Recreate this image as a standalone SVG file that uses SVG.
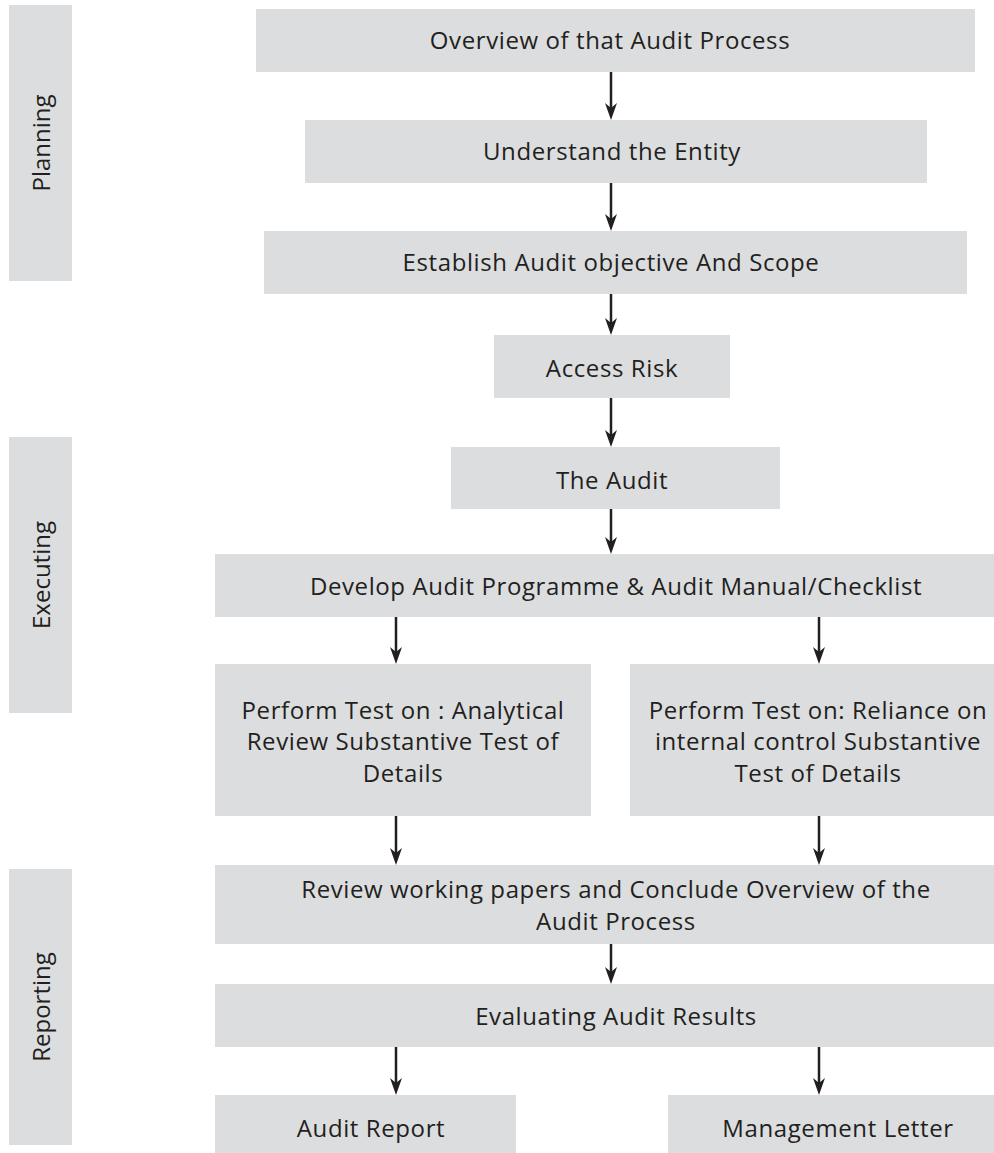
<svg xmlns="http://www.w3.org/2000/svg" width="994" height="1153" viewBox="0 0 994 1153">
<defs>
<style>
.box{fill:#dcdddf;}
.t{font-family:"Open Sans","Noto Sans","Liberation Sans",sans-serif;font-size:24px;fill:#231f20;text-anchor:middle;letter-spacing:0.6px;}
.side{font-family:"Open Sans","Noto Sans","Liberation Sans",sans-serif;font-size:24px;fill:#231f20;text-anchor:middle;}
.c{stroke:#231f20;stroke-width:2.5;fill:none;marker-end:url(#ah);}
</style>
<marker id="ah" viewBox="0 0 17 12" refX="7" refY="6" markerWidth="17" markerHeight="12" markerUnits="userSpaceOnUse" orient="auto">
<path d="M0,0 L17,6 L0,12 L5,6 Z" fill="#231f20"/>
</marker>
</defs>
<rect width="994" height="1153" fill="#ffffff"/>

<g id="phase-planning">
<rect class="box" x="9" y="5" width="63" height="276"/>
<text class="side" transform="translate(50,143) rotate(-90)">Planning</text>
</g>
<g id="phase-executing">
<rect class="box" x="9" y="437" width="63" height="276"/>
<text class="side" transform="translate(50,575) rotate(-90)">Executing</text>
</g>
<g id="phase-reporting">
<rect class="box" x="9" y="869" width="63" height="276"/>
<text class="side" transform="translate(50,1007) rotate(-90)">Reporting</text>
</g>

<g id="n-overview">
<rect class="box" x="256" y="9" width="719" height="63"/>
<text class="t" x="610" y="49">Overview of that Audit Process</text>
</g>
<g id="n-understand">
<rect class="box" x="305" y="120" width="622" height="63"/>
<text class="t" x="612" y="160">Understand the Entity</text>
</g>
<g id="n-establish">
<rect class="box" x="264" y="231" width="703" height="63"/>
<text class="t" x="611" y="271">Establish Audit objective And Scope</text>
</g>
<g id="n-risk">
<rect class="box" x="494" y="335" width="236" height="63"/>
<text class="t" x="612" y="377">Access Risk</text>
</g>
<g id="n-audit">
<rect class="box" x="451" y="447" width="329" height="62"/>
<text class="t" x="612" y="489">The Audit</text>
</g>
<g id="n-develop">
<rect class="box" x="215" y="554" width="779" height="63"/>
<text class="t" x="616" y="595">Develop Audit Programme &amp; Audit Manual/Checklist</text>
</g>
<g id="n-perform-left">
<rect class="box" x="215" y="664" width="376" height="152"/>
<text class="t" x="403" y="719">Perform Test on : Analytical</text>
<text class="t" x="403" y="750">Review Substantive Test of</text>
<text class="t" x="403" y="782">Details</text>
</g>
<g id="n-perform-right">
<rect class="box" x="630" y="664" width="364" height="152"/>
<text class="t" x="818" y="719">Perform Test on: Reliance on</text>
<text class="t" x="818" y="750">internal control Substantive</text>
<text class="t" x="818" y="782">Test of Details</text>
</g>
<g id="n-review">
<rect class="box" x="215" y="865" width="779" height="79"/>
<text class="t" x="616" y="898">Review working papers and Conclude Overview of the</text>
<text class="t" x="616" y="930">Audit Process</text>
</g>
<g id="n-evaluate">
<rect class="box" x="215" y="984" width="779" height="63"/>
<text class="t" x="616" y="1025">Evaluating Audit Results</text>
</g>
<g id="n-report">
<rect class="box" x="215" y="1095" width="301" height="58"/>
<text class="t" x="371" y="1137">Audit Report</text>
</g>
<g id="n-letter">
<rect class="box" x="668" y="1095" width="326" height="58"/>
<text class="t" x="838" y="1137">Management Letter</text>
</g>

<g id="connectors">
<line class="c" x1="611" y1="72" x2="611" y2="110"/>
<line class="c" x1="611" y1="183" x2="611" y2="221"/>
<line class="c" x1="611" y1="294" x2="611" y2="325"/>
<line class="c" x1="611" y1="398" x2="611" y2="437"/>
<line class="c" x1="611" y1="509" x2="611" y2="544"/>
<line class="c" x1="396" y1="617" x2="396" y2="654"/>
<line class="c" x1="819" y1="617" x2="819" y2="654"/>
<line class="c" x1="396" y1="816" x2="396" y2="855"/>
<line class="c" x1="819" y1="816" x2="819" y2="855"/>
<line class="c" x1="611" y1="944" x2="611" y2="974"/>
<line class="c" x1="396" y1="1047" x2="396" y2="1085"/>
<line class="c" x1="819" y1="1047" x2="819" y2="1085"/>
</g>
</svg>
